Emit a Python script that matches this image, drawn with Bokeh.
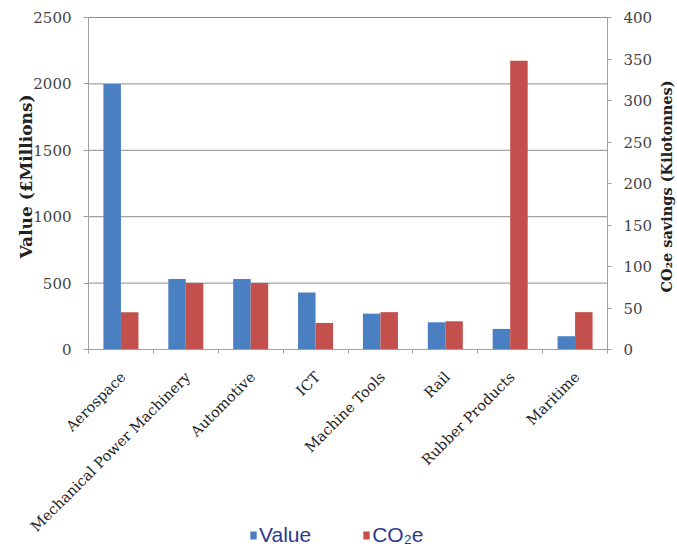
import math
from bokeh.plotting import figure
from bokeh.models import (Range1d, LinearAxis, FixedTicker, Legend, LegendItem,
                          Label, ColumnDataSource)
from bokeh.core.properties import value
from bokeh.transform import dodge
from bokeh.embed import file_html
from bokeh.resources import INLINE

categories = ["Aerospace", "Mechanical Power Machinery", "Automotive", "ICT",
              "Machine Tools", "Rail", "Rubber Products", "Maritime"]
value_millions = [2000, 530, 530, 430, 270, 205, 155, 100]
co2e_kilotonnes = [45, 80, 80, 32, 45, 34, 348, 45]
left_ticks = [0, 500, 1000, 1500, 2000, 2500]
right_ticks = [0, 50, 100, 150, 200, 250, 300, 350, 400]

BLUE = "#4a80c2"
RED = "#c3504d"
GRID = "#8c8c8c"
AXIS = "#a0a0a0"
SERIF = "DejaVu Serif"

# ---- layout geometry (figure pixels) ----
W, H = 677, 547
X0_PX, X1_PX = 88, 607      # left / right value axes
TOP_PX, ZERO_PX = 17, 349   # axis maximum / zero line
n = len(categories)
unit = (X1_PX - X0_PX) / n
plot_px = ZERO_PX - TOP_PX
lmax, rmax = left_ticks[-1], right_ticks[-1]

p = figure(x_range=Range1d(-X0_PX / unit, n + (W - X1_PX) / unit),
           y_range=Range1d(-lmax * (H - ZERO_PX) / plot_px, lmax + lmax * TOP_PX / plot_px),
           width=W, height=H, output_backend="svg", toolbar_location=None,
           x_axis_location=None, y_axis_location=None,
           min_border_left=0, min_border_right=0, min_border_top=0, min_border_bottom=0)
p.extra_y_ranges = {"co2": Range1d(-rmax * (H - ZERO_PX) / plot_px, rmax + rmax * TOP_PX / plot_px)}
p.outline_line_color = None
p.background_fill_color = "white"
p.border_fill_color = "white"
p.grid.visible = False

src = ColumnDataSource(dict(cat=categories, pos=[i + 0.5 for i in range(n)],
                            val=value_millions, co2=co2e_kilotonnes))

# horizontal gridlines between the two value axes
p.segment(x0=0, x1=n, y0=left_ticks, y1=left_ticks, line_color=GRID, line_width=1)

r1 = p.vbar(x=dodge("pos", -0.135), top="val", width=0.27, source=src,
            fill_color=BLUE, line_color=None)
r2 = p.vbar(x=dodge("pos", 0.135), top="co2", width=0.27, source=src,
            fill_color=RED, line_color=None, y_range_name="co2")

# rotated category labels
p.text(x="pos", y=0, text="cat", source=src, angle=math.pi / 4,
       text_align="right", text_baseline="middle", x_offset=2, y_offset=25,
       text_font=value(SERIF), text_font_size="14.5px", text_color="#222222")

# category axis (line + boundary ticks) at zero
xa = LinearAxis(fixed_location=0, ticker=FixedTicker(ticks=list(range(n + 1))))
xa.bounds = (0, n)
xa.major_label_text_color = None
xa.axis_line_color = AXIS
xa.major_tick_line_color = AXIS
xa.major_tick_out = 4
xa.major_tick_in = 0
xa.minor_tick_line_color = None
p.add_layout(xa, "below")

ya = LinearAxis(fixed_location=0, ticker=FixedTicker(ticks=left_ticks))
ya.bounds = (0, lmax)
ya.major_label_text_font = SERIF
ya.major_label_text_font_size = "15px"
ya.major_label_text_color = "#444444"
ya.major_label_standoff = 12
ya.axis_line_color = AXIS
ya.major_tick_line_color = AXIS
ya.major_tick_out = 5
ya.major_tick_in = 0
ya.minor_tick_line_color = None
p.add_layout(ya, "left")

ra = LinearAxis(y_range_name="co2", fixed_location=n, ticker=FixedTicker(ticks=right_ticks))
ra.bounds = (0, rmax)
ra.major_label_text_font = SERIF
ra.major_label_text_font_size = "15px"
ra.major_label_text_color = "#444444"
ra.major_label_standoff = 12
ra.axis_line_color = AXIS
ra.major_tick_line_color = AXIS
ra.major_tick_out = 4
ra.major_tick_in = 0
ra.minor_tick_line_color = None
p.add_layout(ra, "right")

# axis titles
p.add_layout(Label(x=25, y=H - 176, x_units="screen", y_units="screen",
                   text="Value (£Millions)", angle=math.pi / 2,
                   text_align="center", text_baseline="middle",
                   text_font=SERIF, text_font_style="bold", text_font_size="17px",
                   text_color="#222222"))
p.add_layout(Label(x=666, y=H - 186, x_units="screen", y_units="screen",
                   text="CO₂e savings (Kilotonnes)", angle=math.pi / 2,
                   text_align="center", text_baseline="middle",
                   text_font=SERIF, text_font_style="bold", text_font_size="14.5px",
                   text_color="#222222"))

legend = Legend(items=[LegendItem(label="Value", renderers=[r1]),
                       LegendItem(label="CO₂e", renderers=[r2])],
                location=(249, 0), orientation="horizontal",
                label_text_font="Liberation Sans", label_text_font_size="21px",
                label_text_color="#2b3990", glyph_width=8, glyph_height=10,
                label_standoff=2, spacing=51, padding=0, margin=0,
                border_line_color=None, background_fill_alpha=0)
p.add_layout(legend, "center")

open("out.html", "w").write(file_html(p, INLINE))
